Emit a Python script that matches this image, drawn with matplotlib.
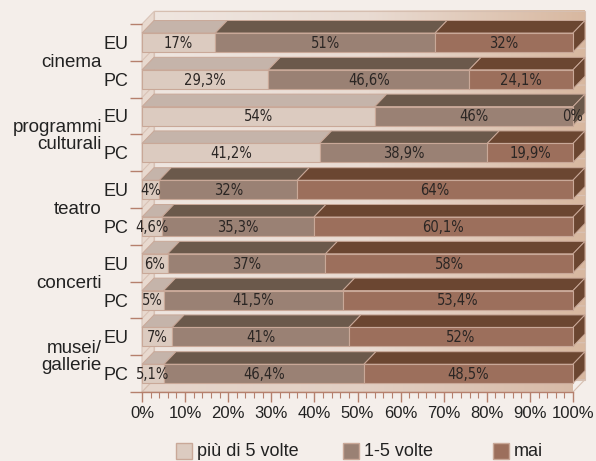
import numpy as np
import matplotlib
matplotlib.use("Agg")
from matplotlib import pyplot as plt
from matplotlib.patches import Polygon, Rectangle
from matplotlib.colors import LinearSegmentedColormap

# survey answers, percent of respondents
categories = ["cinema", "programmi\nculturali", "teatro", "concerti", "musei/\ngallerie"]
groups = ["EU", "PC"]
series = ["più di 5 volte", "1-5 volte", "mai"]

piu_di_5 = [17, 29.3, 54, 41.2, 4, 4.6, 6, 5, 7, 5.1]
da_1_a_5 = [51, 46.6, 46, 38.9, 32, 35.3, 37, 41.5, 41, 46.4]
mai = [32, 24.1, 0, 19.9, 64, 60.1, 58, 53.4, 52, 48.5]

value_labels = [
    ["17%", "29,3%", "54%", "41,2%", "4%", "4,6%", "6%", "5%", "7%", "5,1%"],
    ["51%", "46,6%", "46%", "38,9%", "32%", "35,3%", "37%", "41,5%", "41%", "46,4%"],
    ["32%", "24,1%", "0%", "19,9%", "64%", "60,1%", "58%", "53,4%", "52%", "48,5%"],
]

front_colors = ["#dccbc0", "#9a8174", "#9c6f5c"]
top_colors = ["#c5b4aa", "#6b594b", "#6b4631"]
edge_col = "#c9a898"
tick_col = "#b5806d"
bg = "#f4eeea"
sans = ["Liberation Sans", "DejaVu Sans"]

W, H = 596, 461
fig = plt.figure(figsize=(W / 100, H / 100), dpi=100, facecolor=bg)

# plot area in pixels: x 142..573, y 24..392 (from top)
x0, x1, y0, y1 = 142, 573, 24, 392
ax = fig.add_axes([x0 / W, (H - y1) / H, (x1 - x0) / W, (y1 - y0) / H])
ax.set_facecolor("none")
n = len(piu_di_5)
ax.set_xlim(0, 100)
ax.set_ylim(n, 0)

px_x = (x1 - x0) / 100.0
px_y = (y1 - y0) / n
dx = 12 / px_x      # depth offset, data units
dy = 12.5 / px_y

# back wall with horizontal gradient
grad = np.linspace(0, 1, 256)[None, :]
wall_cmap = LinearSegmentedColormap.from_list("wall", ["#efe6e0", "#e9dbd2", "#d8b8a0"])
im = ax.imshow(grad, cmap=wall_cmap, aspect="auto",
               extent=(dx, 100 + dx, n - dy, -dy), zorder=0)
im.set_clip_on(False)
ax.add_patch(Polygon([(dx, -dy), (100 + dx, -dy), (100 + dx, n - dy), (dx, n - dy)],
                     closed=True, fill=False, edgecolor="#d6bfb1", lw=0.8,
                     clip_on=False, zorder=0.5))

# left wall and floor
ax.add_patch(Polygon([(0, 0), (dx, -dy), (dx, n - dy), (0, n)], closed=True,
                     facecolor="#e8d9cf", edgecolor="#d9c4b8", lw=0.8,
                     clip_on=False, zorder=0.6))
floor = ax.imshow(grad, cmap=LinearSegmentedColormap.from_list(
    "floor", ["#e6d6cc", "#e2cfc3", "#d7b9a5"]), aspect="auto",
    extent=(0, 100 + dx, n, n - dy), zorder=0.6)
floor_poly = Polygon([(0, n), (dx, n - dy), (100 + dx, n - dy), (100, n)],
                     closed=True, facecolor="none", edgecolor="#d6bfb1", lw=0.8,
                     clip_on=False, zorder=0.7)
ax.add_patch(floor_poly)
floor.set_clip_path(floor_poly)

# shelf lines between the bars
for k in range(1, n):
    ax.plot([0, dx, 100 + dx], [k, k - dy, k - dy], color="#d9c2b5", lw=0.8,
            clip_on=False, zorder=0.8)

top_off, bot_off = 0.245, 0.76
values = [piu_di_5, da_1_a_5, mai]
lab_font = dict(family=["Liberation Sans Narrow", "DejaVu Sans"], fontstretch="condensed",
                fontsize=10.5, color="#2b2624")

for i in range(n):
    yt, yb = i + top_off, i + bot_off
    total = sum(v[i] for v in values)   # 100% stacked: rows scaled to their total
    left = 0
    last = 0
    for s in range(3):
        w = values[s][i] * 100.0 / total
        if w > 0:
            right = left + w
            ax.add_patch(Polygon([(left, yt), (left + dx, yt - dy), (right + dx, yt - dy), (right, yt)],
                                 closed=True, facecolor=top_colors[s], edgecolor=edge_col,
                                 lw=0.7, clip_on=False, zorder=2))
            ax.add_patch(Rectangle((left, yt), w, yb - yt, facecolor=front_colors[s],
                                   edgecolor=edge_col, lw=0.8, clip_on=False, zorder=3))
            last = s
        ax.text(left + w / 2, (yt + yb) / 2 + 0.02, value_labels[s][i], ha="center",
                va="center", zorder=5, **lab_font)
        left += w
    # right side face
    ax.add_patch(Polygon([(left, yt), (left + dx, yt - dy), (left + dx, yb - dy), (left, yb)],
                         closed=True, facecolor=top_colors[last], edgecolor=edge_col,
                         lw=0.7, clip_on=False, zorder=2))

# axes, ticks, labels
for sp in ax.spines.values():
    sp.set_visible(False)
ax.axhline(n, color=tick_col, lw=1.0, zorder=4, clip_on=False)

ax.set_xticks(np.arange(0, 101, 10))
ax.set_xticks(np.arange(0, 101, 2), minor=True)
ax.set_xticklabels([f"{v}%" for v in range(0, 101, 10)])
ax.tick_params(axis="x", which="major", length=7, color=tick_col, width=1.0,
               labelsize=12, labelcolor="#222222", pad=3)
ax.tick_params(axis="x", which="minor", length=4, color=tick_col, width=0.8)

ax.set_yticks(np.arange(0, n + 1))
ax.set_yticklabels([])
ax.set_yticks(np.arange(n) + 0.5, minor=True)
ax.set_yticklabels(groups * len(categories), minor=True)
ax.tick_params(axis="y", which="major", length=9, color=tick_col, width=1.0)
ax.tick_params(axis="y", which="minor", length=0, pad=10, labelsize=13,
               labelcolor="#222222")

for lab in ax.get_xticklabels() + ax.get_yticklabels(minor=True):
    lab.set_family(sans)

for c, name in enumerate(categories):
    ax.text(-40 / px_x, 2 * c + 1.05, name, ha="right", va="center", fontsize=13.5,
            color="#222222", linespacing=1.0, clip_on=False, family=sans)

# legend along the bottom
leg_x = [176, 343, 493]
for s, name in enumerate(series):
    fig.patches.append(Rectangle((leg_x[s] / W, (H - 459) / H), 16 / W, 16 / H,
                                 transform=fig.transFigure, facecolor=front_colors[s],
                                 edgecolor=edge_col, lw=1.0))
    fig.text((leg_x[s] + 21) / W, (H - 451) / H, name, ha="left", va="center",
             fontsize=13, color="#222222", family=sans)

fig.savefig("out.png", dpi=100, facecolor=bg)
